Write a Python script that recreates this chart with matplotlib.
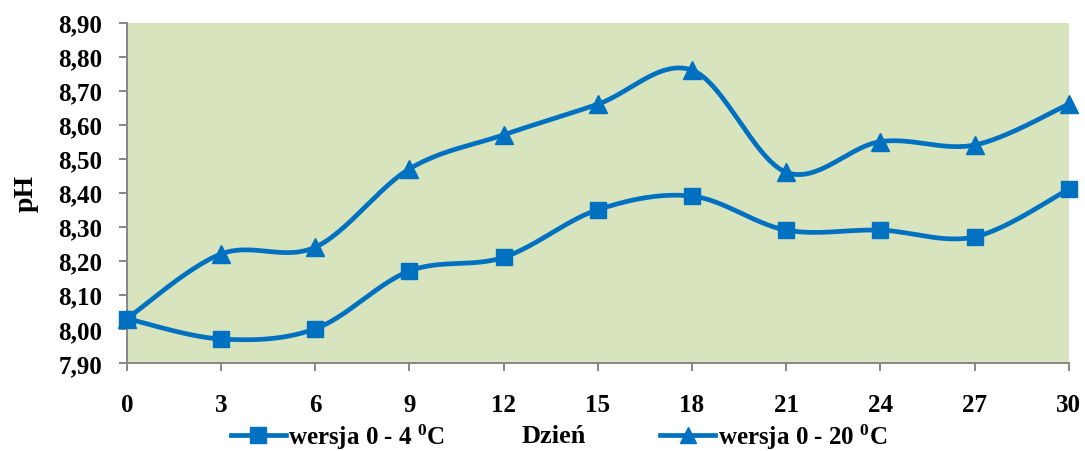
import numpy as np
import matplotlib
matplotlib.use("Agg")
import matplotlib.pyplot as plt
from matplotlib.ticker import FuncFormatter, MultipleLocator

plt.rcParams["font.family"] = ["Liberation Serif", "DejaVu Serif"]
plt.rcParams["font.weight"] = "bold"
plt.rcParams["mathtext.fontset"] = "custom"
plt.rcParams["mathtext.rm"] = "Liberation Serif:bold"
plt.rcParams["mathtext.it"] = "Liberation Serif:bold"
plt.rcParams["mathtext.bf"] = "Liberation Serif:bold"

# pH over the storage days
days = [0, 3, 6, 9, 12, 15, 18, 21, 24, 27, 30]
ph_4c = [8.03, 7.97, 8.00, 8.17, 8.21, 8.35, 8.39, 8.29, 8.29, 8.27, 8.41]
ph_20c = [8.03, 8.22, 8.24, 8.47, 8.57, 8.66, 8.76, 8.46, 8.55, 8.54, 8.66]
labels = [r"wersja 0 - 4 $^{0}$C", r"wersja 0 - 20 $^{0}$C"]

BLUE = "#0070c0"
BG = "#d8e4bd"
GRAY = "#868686"


def smooth(x, y, n=30):
    # Catmull-Rom through the points, written as cubic Bezier segments
    x = np.asarray(x, float)
    y = np.asarray(y, float)
    pts = np.column_stack([x, y])
    p = np.vstack([pts[0], pts, pts[-1]])
    t = np.linspace(0, 1, n)[:, None]
    out = []
    for i in range(1, len(p) - 2):
        p0, p1, p2, p3 = p[i - 1], p[i], p[i + 1], p[i + 2]
        b1 = p1 + (p2 - p0) / 6
        b2 = p2 - (p3 - p1) / 6
        seg = ((1 - t) ** 3) * p1 + 3 * ((1 - t) ** 2) * t * b1 \
            + 3 * (1 - t) * t ** 2 * b2 + t ** 3 * p2
        out.append(seg if i == 1 else seg[1:])
    out = np.vstack(out)
    return out[:, 0], out[:, 1]


fig = plt.figure(figsize=(10.85, 4.52), dpi=100)
ax = fig.add_axes([0.117, 0.195, 0.868, 0.753])
ax.set_facecolor(BG)

for vals, mk, ms, lab in [(ph_4c, "s", 12, labels[0]), (ph_20c, "^", 13, labels[1])]:
    sx, sy = smooth(days, vals)
    ax.plot(sx, sy, color=BLUE, lw=3.4, solid_capstyle="round", zorder=2,
            clip_on=False)
    ax.plot(days, vals, ls="none", marker=mk, color=BLUE, ms=ms, zorder=3,
            clip_on=False)
    ax.plot([], [], color=BLUE, lw=3.4, marker=mk, ms=ms - 1, label=lab)

ax.set_xlim(0, 30)
ax.set_ylim(7.90, 8.90)
ax.set_xticks(days)
ax.yaxis.set_major_locator(MultipleLocator(0.1))
ax.yaxis.set_major_formatter(FuncFormatter(lambda v, p: f"{v:.2f}".replace(".", ",")))

for side in ["top", "right"]:
    ax.spines[side].set_visible(False)
for side in ["left", "bottom"]:
    ax.spines[side].set_color(GRAY)
    ax.spines[side].set_linewidth(1.4)
ax.tick_params(axis="both", colors=GRAY, length=6, width=1.4,
               labelcolor="black", labelsize=18)
ax.tick_params(axis="x", pad=16)
ax.tick_params(axis="y", pad=12)

ax.set_ylabel("pH", fontsize=20, fontweight="bold", labelpad=14)
fig.text(0.51, 0.02, "Dzień", fontsize=19, fontweight="bold", ha="center")

fig.legend(loc="lower left", bbox_to_anchor=(0.192, -0.05), ncol=2,
           frameon=False, fontsize=18, handlelength=2.2, handletextpad=0.1,
           columnspacing=8.6)

fig.savefig("out.png", dpi=100)
